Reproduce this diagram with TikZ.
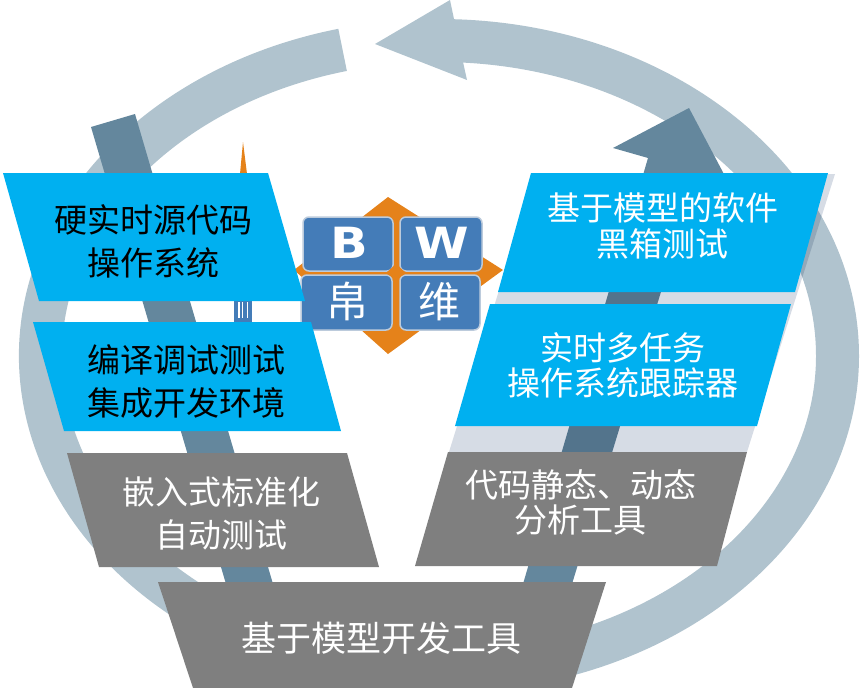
\documentclass[tikz,border=0pt]{standalone}
\usepackage{fontspec}
\setmainfont{Noto Sans CJK SC}
\newfontfamily\logofont{DejaVu Sans}
\definecolor{ringblue}{HTML}{B0C3CE}
\definecolor{arrowblue}{HTML}{64879D}
\definecolor{stripgray}{HTML}{D6DCE5}
\definecolor{panelblue}{HTML}{00B0F0}
\definecolor{panelgray}{HTML}{7F7F7F}
\definecolor{logoblue}{HTML}{447CB8}
\definecolor{logoedge}{HTML}{BCCBDC}
\definecolor{logoorange}{HTML}{E5821A}
\tikzset{
  darktext/.style={align=center, inner sep=0pt, text=black, font=\fontsize{33pt}{43pt}\selectfont},
  lighttext/.style={align=center, inner sep=0pt, text=white, font=\fontsize{33pt}{35.5pt}\selectfont},
  logotile/.style={fill=logoblue, draw=logoedge, line width=1.5pt, rounded corners=6pt},
  logotext/.style={inner sep=0pt, text=white, font=\fontsize{42pt}{42pt}\selectfont},
  logoletter/.style={inner sep=0pt, text=white, xscale=1.15, font=\logofont\bfseries\fontsize{43pt}{43pt}\selectfont}
}
\begin{document}
\begin{tikzpicture}[x=1pt, y=-1pt]
  \useasboundingbox (0,0) rectangle (865,688);

  % ring
  \coordinate (ringc) at (439,356);
  \draw[ringblue, line width=43pt] (ringc) ++(-89:398.5 and 315.5) arc[start angle=-89, end angle=75, x radius=398.5, y radius=315.5];
  \draw[ringblue, line width=43pt] (ringc) ++(-104:398.5 and 315.5) arc[start angle=-104, end angle=-240, x radius=398.5, y radius=315.5];
  \fill[ringblue] (375,44) -- (450,0) -- (454,19) -- (463,62) -- (467,80) -- cycle;

  % vertical arrows
  \fill[arrowblue] (91,127) -- (135,114) -- (273,584) -- (226,584) -- cycle;
  \fill[arrowblue] (613,148) -- (689,108) -- (735,195) -- (692,190) -- (572,584) -- (523,584) -- (648,158) -- cycle;

  % strip behind the right panels
  \fill[stripgray, blend mode=multiply] (449,452) -- (747,452) -- (835,174) -- (535,174) -- cycle;

  % logo
  \fill[logoorange] (388,197) -- (503,270) -- (388,354) -- (294,270) -- cycle;
  \filldraw[logotile] (303,217) rectangle (393,271);
  \filldraw[logotile] (400,217) rectangle (482,271);
  \filldraw[logotile] (301,275) rectangle (392,330);
  \filldraw[logotile] (400,275) rectangle (480,330);
  \fill[logoorange] (396,264) -- (406,273) -- (396,280) -- (386,273) -- cycle;
  \node[logoletter] (letterb) at (349,243) {B};
  \node[logoletter] (letterw) at (442,243) {W};
  \node[logotext] (charbo) at (347,301) {帛};
  \node[logotext] (charwei) at (439,302) {维};
  \fill[logoorange] (243,142) -- (247,174) -- (240,174) -- cycle;
  \fill[logoblue] (234,300) rectangle (252,322);
  \fill[white] (238,302) rectangle (240,318);
  \fill[white] (242,302) rectangle (243,318);
  \fill[white] (247,302) rectangle (248,318);

  % panels
  \fill[panelblue] (3,173) -- (268,173) -- (305,301) -- (39,301) -- cycle;
  \fill[panelblue] (33,322) -- (311,322) -- (341,431) -- (64,431) -- cycle;
  \fill[panelgray] (67,453) -- (347,453) -- (379,567) -- (99,567) -- cycle;
  \fill[panelgray] (158,582) -- (606,582) -- (572,688) -- (193,688) -- cycle;
  \fill[panelblue] (531,173) -- (828,173) -- (795,292) -- (498,292) -- cycle;
  \fill[panelblue] (490,304) -- (791,304) -- (757,426) -- (455,426) -- cycle;
  \fill[panelgray] (448,452) -- (747,452) -- (717,566) -- (415,566) -- cycle;

  % panel texts
  \node[darktext] (hardrt) at (153,241.5) {硬实时源代码\\操作系统};
  \node[darktext] (compile) at (186.5,381.5) {编译调试测试\\集成开发环境};
  \node[lighttext, font=\fontsize{33pt}{43pt}\selectfont] (embedded) at (221.5,513.5) {嵌入式标准化\\自动测试};
  \node[lighttext, font=\fontsize{35pt}{35pt}\selectfont] (modeldev) at (381,638) {基于模型开发工具};
  \node[lighttext] (blackbox) at (662.5,226) {基于模型的软件\\黑箱测试};
  \node[lighttext] (tracer) at (622.5,365.5) {实时多任务\\操作系统跟踪器};
  \node[lighttext] (analysis) at (580.5,502.5) {代码静态、动态\\分析工具};
\end{tikzpicture}
\end{document}
